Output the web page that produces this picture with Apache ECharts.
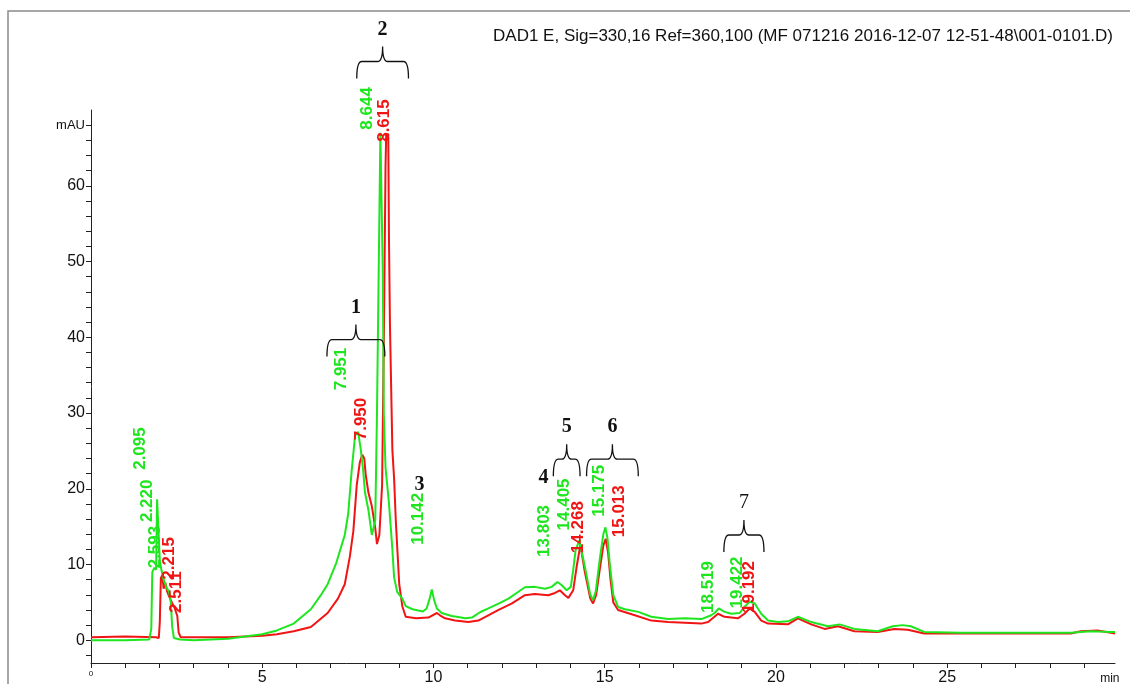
<!DOCTYPE html>
<html>
<head>
<meta charset="utf-8">
<script src="https://cdn.jsdelivr.net/npm/echarts@6/dist/echarts.min.js"></script>
<style>
html, body { margin: 0; padding: 0; background: #fff; }
#chart { width: 1130px; height: 684px; }
</style>
</head>
<body>
<div id="chart"></div>
<script>
// green trace (retention time in min, absorbance in mAU)
const greenTime = [0, 1.0, 1.70, 1.76, 1.79, 1.85, 1.90, 1.93, 1.98, 2.01, 2.06, 2.12, 2.20, 2.28, 2.33, 2.37, 2.42, 2.6, 3.0, 4.0, 4.5, 5.0, 5.43, 5.92, 6.42, 6.71, 6.91, 7.16, 7.41, 7.51, 7.61, 7.71, 7.80, 7.88, 7.95, 8.00, 8.10, 8.20, 8.25, 8.30, 8.35, 8.40, 8.45, 8.50, 8.52, 8.55, 8.60, 8.70, 8.80, 8.85, 8.94, 9.09, 9.19, 9.39, 9.69, 9.80, 9.90, 9.95, 10.02, 10.10, 10.24, 10.53, 10.68, 10.92, 11.12, 11.36, 11.60, 11.90, 12.19, 12.48, 12.67, 12.96, 13.26, 13.45, 13.62, 13.74, 13.89, 14.01, 14.08, 14.15, 14.26, 14.42, 14.58, 14.66, 14.74, 14.85, 14.96, 15.02, 15.08, 15.15, 15.25, 15.39, 15.59, 15.98, 16.36, 16.85, 17.34, 17.82, 18.11, 18.21, 18.33, 18.50, 18.70, 18.94, 19.08, 19.23, 19.38, 19.57, 19.77, 20.06, 20.35, 20.64, 21.03, 21.52, 21.86, 22.29, 22.97, 23.41, 23.70, 23.94, 24.33, 25.40, 26.86, 28.61, 28.90, 29.19, 29.78, 29.9];
const greenAbs = [0.0, 0.0, 0.1, 1.5, 9.0, 9.6, 9.3, 18.6, 18.6, 10.5, 9.2, 8.0, 7.0, 6.4, 5.0, 1.8, 0.3, 0.1, 0.0, 0.2, 0.5, 0.8, 1.3, 2.2, 4.1, 5.95, 7.4, 10.2, 13.9, 16.7, 22.3, 27.0, 27.5, 25.1, 22.3, 19.5, 17.2, 13.9, 13.7, 15.8, 29.8, 48.5, 67.0, 66.8, 48.5, 29.8, 22.8, 18.1, 12.0, 8.3, 6.4, 5.5, 4.5, 4.1, 3.8, 4.2, 5.7, 6.7, 5.3, 4.2, 3.6, 3.2, 3.1, 2.9, 3.0, 3.7, 4.2, 4.85, 5.5, 6.4, 7.0, 7.05, 6.8, 7.05, 7.7, 7.3, 6.6, 7.05, 9.25, 11.9, 13.2, 9.7, 6.0, 5.3, 6.5, 10.5, 14.0, 14.9, 13.5, 10.0, 6.0, 4.4, 4.1, 3.75, 3.1, 2.8, 2.9, 2.8, 3.3, 3.6, 4.2, 3.75, 3.5, 3.6, 4.4, 5.1, 4.85, 3.5, 2.6, 2.4, 2.5, 3.1, 2.4, 1.85, 2.1, 1.5, 1.2, 1.85, 2.0, 1.85, 1.1, 1.0, 1.0, 1.0, 1.1, 1.2, 1.1, 1.1];

// red trace
const redTime = [0, 1.0, 1.9, 1.98, 2.01, 2.04, 2.08, 2.12, 2.17, 2.22, 2.28, 2.36, 2.44, 2.52, 2.56, 2.62, 3.0, 4.0, 4.5, 5.0, 5.43, 5.92, 6.42, 6.91, 7.21, 7.41, 7.56, 7.66, 7.76, 7.85, 7.92, 7.98, 8.02, 8.10, 8.20, 8.30, 8.35, 8.42, 8.50, 8.55, 8.60, 8.62, 8.68, 8.70, 8.73, 8.80, 8.85, 8.90, 9.00, 9.09, 9.19, 9.49, 9.85, 10.10, 10.19, 10.34, 10.63, 11.02, 11.31, 11.60, 11.90, 12.28, 12.67, 12.96, 13.35, 13.55, 13.69, 13.84, 13.94, 14.08, 14.18, 14.29, 14.42, 14.58, 14.66, 14.75, 14.86, 14.96, 15.03, 15.10, 15.17, 15.25, 15.39, 15.88, 16.36, 16.85, 17.34, 17.82, 18.02, 18.31, 18.50, 18.89, 19.08, 19.23, 19.38, 19.57, 19.77, 20.35, 20.64, 21.03, 21.42, 21.81, 22.29, 22.97, 23.46, 23.85, 24.33, 25.40, 26.86, 28.61, 28.90, 29.39, 29.78, 29.9];
const redAbs = [0.4, 0.5, 0.4, 0.3, 2.5, 8.2, 8.6, 6.8, 7.6, 6.5, 5.8, 5.0, 4.3, 3.2, 1.0, 0.4, 0.4, 0.4, 0.5, 0.6, 0.8, 1.2, 1.75, 3.6, 5.5, 7.4, 11.1, 14.4, 20.5, 23.5, 24.5, 24.0, 21.9, 19.5, 17.7, 14.8, 12.7, 13.9, 20.5, 39.2, 62.6, 66.8, 66.8, 53.2, 41.5, 25.1, 21.4, 15.8, 7.4, 4.5, 3.1, 2.9, 3.0, 3.6, 3.3, 2.9, 2.6, 2.4, 2.6, 3.3, 4.0, 4.85, 5.95, 6.1, 5.95, 6.25, 6.6, 5.95, 5.6, 6.6, 9.7, 12.6, 9.0, 5.5, 4.85, 6.0, 9.5, 12.5, 13.4, 11.5, 8.0, 5.0, 4.0, 3.3, 2.6, 2.4, 2.3, 2.2, 2.4, 3.5, 3.1, 2.9, 3.5, 4.2, 3.75, 2.6, 2.2, 2.1, 2.9, 2.1, 1.5, 1.85, 1.2, 1.1, 1.5, 1.4, 0.9, 0.9, 0.9, 0.9, 1.2, 1.3, 1.0, 0.9];

// retention time labels (where each rotated label starts)
const greenPeakNames = ['2.095', '2.220', '2.593', '7.951', '8.644', '10.142', '13.803', '14.405', '15.175', '18.519', '19.422'];
const greenPeakTime = [1.44, 1.64, 1.87, 7.32, 8.08, 9.56, 13.24, 13.82, 14.84, 18.02, 18.86];
const greenPeakAbs = [22.5, 15.6, 9.5, 33.0, 67.4, 12.6, 11.0, 14.5, 16.3, 3.6, 4.2];
const redPeakNames = ['2.215', '2.511', '7.950', '8.615', '14.268', '15.013', '19.192'];
const redPeakTime = [2.28, 2.48, 7.90, 8.57, 14.23, 15.42, 19.21];
const redPeakAbs = [8.0, 3.6, 26.4, 65.8, 11.5, 13.6, 3.6];

// numbered peak groups
const braceNames = ['1', '2', '5', '6', '7'];
const braceStart = [6.89, 7.76, 13.50, 14.47, 18.48];
const braceEnd = [8.58, 9.27, 14.28, 15.98, 19.65];
const braceLevel = [39.7, 76.4, 23.9, 23.9, 13.9];
const looseNames = ['3', '4'];
const looseTime = [9.59, 13.21];
const looseAbs = [20.5, 21.5];

const yTickValues = [];
for (let v = -2; v <= 68; v += 2) yTickValues.push(v);
const yLabelValues = [0, 10, 20, 30, 40, 50, 60, 68];
const xTickValues = [];
for (let v = 0; v <= 29; v++) xTickValues.push(v);
const xLabelValues = [0, 5, 10, 15, 20, 25, 29.75];

const GREEN = '#1ee61e';
const RED = '#f01414';
const SANS = '"Liberation Sans", Arial, sans-serif';
const SERIF = '"Liberation Serif", "Times New Roman", serif';

const zip = (a, b) => a.map((t, i) => [t, b[i]]);

function peakLabelSeries(names, times, abs, color) {
  return {
    type: 'custom',
    silent: true,
    z: 5,
    data: zip(times, abs),
    renderItem: function (params, api) {
      const p = api.coord([api.value(0), api.value(1)]);
      return {
        type: 'text',
        x: p[0],
        y: p[1],
        rotation: Math.PI / 2,
        style: {
          text: names[params.dataIndex],
          fill: color,
          font: 'bold 17px ' + SANS,
          align: 'left',
          verticalAlign: 'middle',
          textAlign: 'left',
          textVerticalAlign: 'middle'
        }
      };
    }
  };
}

const chart = echarts.init(document.getElementById('chart'));
chart.setOption({
  animation: false,
  backgroundColor: '#fff',
  title: {
    text: 'DAD1 E, Sig=330,16 Ref=360,100 (MF 071216 2016-12-07 12-51-48\\001-0101.D)',
    right: 12,
    top: 23,
    textStyle: { fontFamily: SANS, fontSize: 17, fontWeight: 'normal', color: '#111' }
  },
  graphic: [{
    type: 'rect',
    silent: true,
    shape: { x: 8, y: 11, width: 1200, height: 800 },
    style: { fill: 'none', stroke: '#8a8a8a', lineWidth: 1.5 }
  }],
  grid: { left: 91, right: 15, top: 110, bottom: 21, outerBoundsMode: 'none' },
  xAxis: {
    type: 'value',
    min: 0,
    max: 29.9,
    splitLine: { show: false },
    axisLine: { onZero: false, lineStyle: { color: '#222', width: 1 } },
    axisTick: { customValues: xTickValues, length: 5, lineStyle: { color: '#222' } },
    axisLabel: {
      customValues: xLabelValues,
      margin: 7,
      color: '#111',
      fontFamily: SANS,
      fontSize: 16,
      formatter: function (v) {
        if (v === 0) return '{s|0}';
        if (v > 29) return '{m|min}';
        return String(v);
      },
      rich: {
        s: { fontSize: 8, fontFamily: SANS, color: '#111' },
        m: { fontSize: 12, fontFamily: SANS, color: '#111', padding: [3, 0, 0, 0] }
      }
    }
  },
  yAxis: {
    type: 'value',
    min: -3,
    max: 70,
    splitLine: { show: false },
    axisLine: { onZero: false, lineStyle: { color: '#222', width: 1 } },
    axisTick: { customValues: yTickValues, length: 5, lineStyle: { color: '#222' } },
    axisLabel: {
      customValues: yLabelValues,
      margin: 6,
      color: '#111',
      fontFamily: SANS,
      fontSize: 16,
      formatter: function (v) {
        return v > 65 ? '{u|mAU}' : String(v);
      },
      rich: { u: { fontSize: 13, fontFamily: SANS, color: '#111' } }
    }
  },
  series: [
    {
      type: 'line',
      data: zip(redTime, redAbs),
      showSymbol: false,
      lineStyle: { color: RED, width: 2 },
      z: 2
    },
    {
      type: 'line',
      data: zip(greenTime, greenAbs),
      showSymbol: false,
      lineStyle: { color: GREEN, width: 2 },
      z: 3
    },
    peakLabelSeries(redPeakNames, redPeakTime, redPeakAbs, RED),
    peakLabelSeries(greenPeakNames, greenPeakTime, greenPeakAbs, GREEN),
    {
      type: 'custom',
      silent: true,
      z: 6,
      data: braceNames.map((n, i) => [braceStart[i], braceEnd[i], braceLevel[i]]),
      renderItem: function (params, api) {
        const a = api.coord([api.value(0), api.value(2)]);
        const b = api.coord([api.value(1), api.value(2)]);
        const y = a[1], xm = (a[0] + b[0]) / 2;
        const d = 17, c = 15, r = 5;
        const path = 'M' + a[0] + ',' + (y + d) +
          ' Q' + a[0] + ',' + y + ' ' + (a[0] + r) + ',' + y +
          ' L' + (xm - r) + ',' + y +
          ' Q' + xm + ',' + y + ' ' + xm + ',' + (y - c) +
          ' Q' + xm + ',' + y + ' ' + (xm + r) + ',' + y +
          ' L' + (b[0] - r) + ',' + y +
          ' Q' + b[0] + ',' + y + ' ' + b[0] + ',' + (y + d);
        const name = braceNames[params.dataIndex];
        return {
          type: 'group',
          children: [
            { type: 'path', shape: { pathData: path }, style: { fill: 'none', stroke: '#111', lineWidth: 1.3 } },
            {
              type: 'text', x: xm, y: y - c - 17,
              style: {
                text: name, fill: '#111',
                font: (name === '7' ? 'normal ' : 'bold ') + '20px ' + SERIF,
                align: 'center', verticalAlign: 'middle', textAlign: 'center', textVerticalAlign: 'middle'
              }
            }
          ]
        };
      }
    },
    {
      type: 'custom',
      silent: true,
      z: 6,
      data: zip(looseTime, looseAbs),
      renderItem: function (params, api) {
        const p = api.coord([api.value(0), api.value(1)]);
        return {
          type: 'text', x: p[0], y: p[1],
          style: {
            text: looseNames[params.dataIndex], fill: '#111',
            font: 'bold 20px ' + SERIF,
            align: 'center', verticalAlign: 'middle', textAlign: 'center', textVerticalAlign: 'middle'
          }
        };
      }
    }
  ]
});
</script>
</body>
</html>
